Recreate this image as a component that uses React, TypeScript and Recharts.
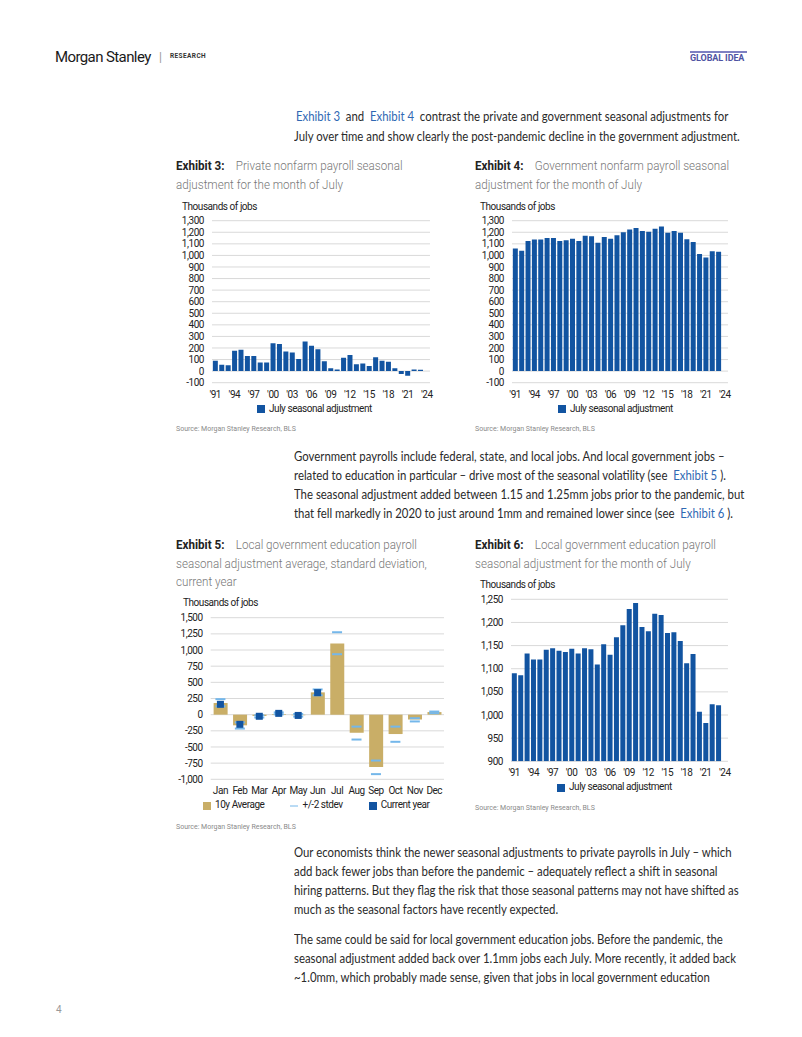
import React from 'react';
import { BarChart, Bar, XAxis, YAxis, CartesianGrid, Legend, ComposedChart, Line } from 'recharts';

// ---------- DATA ----------
const years = [1991, 1992, 1993, 1994, 1995, 1996, 1997, 1998, 1999, 2000, 2001, 2002, 2003, 2004, 2005, 2006, 2007, 2008, 2009, 2010, 2011, 2012, 2013, 2014, 2015, 2016, 2017, 2018, 2019, 2020, 2021, 2022, 2023, 2024];
const privateJuly = [90, 55, 50, 175, 185, 130, 130, 75, 75, 240, 235, 170, 160, 105, 255, 220, 190, 85, 25, 15, 115, 140, 60, 65, 45, 120, 90, 80, 25, -25, -40, 15, 12];
const governmentJuly = [1060, 1040, 1125, 1137, 1137, 1150, 1150, 1125, 1130, 1145, 1125, 1170, 1165, 1110, 1160, 1145, 1175, 1200, 1225, 1237, 1210, 1205, 1230, 1250, 1195, 1210, 1195, 1140, 1115, 1012, 982, 1035, 1032];
const educationJuly = [1090, 1086, 1133, 1120, 1120, 1141, 1144, 1139, 1136, 1143, 1133, 1144, 1142, 1109, 1153, 1130, 1168, 1194, 1229, 1242, 1190, 1181, 1219, 1216, 1177, 1179, 1160, 1112, 1132, 1007, 983, 1023, 1021];
const julyTicks = [-100, 0, 100, 200, 300, 400, 500, 600, 700, 800, 900, 1000, 1100, 1200, 1300];
const eduTicks = [900, 950, 1000, 1050, 1100, 1150, 1200, 1250];

const months = ['Jan', 'Feb', 'Mar', 'Apr', 'May', 'Jun', 'Jul', 'Aug', 'Sep', 'Oct', 'Nov', 'Dec'];
const avg10y = [180, -165, -20, 10, -10, 345, 1100, -280, -810, -300, -75, 40];
const stdevHigh = [240, -120, -10, 35, 10, 390, 1275, -185, -710, -185, -55, 48];
const stdevLow = [130, -215, -45, 5, -30, 300, 935, -385, -920, -420, -105, 22];
const currentYear = [160, -150, -25, 20, -12, 340, null, null, null, null, null, null];
const monthTicks = [-1000, -750, -500, -250, 0, 250, 500, 750, 1000, 1250, 1500];
const monthLegendOrder = ['10y Average', '+/-2 stdev', 'Current year'];

// ---------- TABLES ----------
const privateData = years.map((y, i) => ({ year: y, value: i < privateJuly.length ? privateJuly[i] : null }));
const govData = years.map((y, i) => ({ year: y, value: i < governmentJuly.length ? governmentJuly[i] : null }));
const eduData = years.map((y, i) => ({ year: y, value: i < educationJuly.length ? educationJuly[i] : null }));
const monthData = months.map((m, i) => ({ month: m, avg: avg10y[i], hi: stdevHigh[i], lo: stdevLow[i], cur: currentYear[i] }));

// ---------- STYLE ----------
const BLUE = '#1254a1';
const TAN = '#c9ae67';
const LIGHTBLUE = '#74b7ea';
const GRID = '#d9d9d9';
const CF = 'Roboto, sans-serif';
const tickStyle = { fontSize: 10, fill: '#222', fontFamily: CF, letterSpacing: -0.45 };
const fmt = (v: number) => v.toLocaleString('en-US');
const yr = (v: number) => "'" + String(v).slice(2);
const legendFmt = (extra: number) => (v: string) => (
  <span style={{ color: '#222', marginRight: extra }}>{v}</span>
);
const legendWrap = (left: number) => ({ left, fontSize: 10, fontFamily: CF, letterSpacing: -0.45, lineHeight: '12px' });
const monthSorter = (item: any) => monthLegendOrder.indexOf(item.value);

const T = ({ x, y, size = 13, color = '#333', weight = 400, family = 'Lato, sans-serif', sx = 1, ls = 0, children }: any) => (
  <div
    style={{
      position: 'absolute', left: x, top: y - size * 0.6, fontSize: size, lineHeight: `${size * 1.2}px`, color,
      fontWeight: weight, fontFamily: family, whiteSpace: 'nowrap', letterSpacing: ls,
      transform: sx !== 1 ? `scaleX(${sx})` : undefined, transformOrigin: 'left center',
    }}
  >
    {children}
  </div>
);

const L = ({ children }: any) => <span style={{ color: '#2f68b3' }}>{children}</span>;
const BODY_SX = 0.875;
const Body = ({ y, children, x = 294 }: any) => (
  <T x={x} y={y} size={13} color="#2a2a2a" sx={BODY_SX}>{children}</T>
);
const Title = ({ x, y, label, children }: any) => (
  <T x={x} y={y} size={12.5} family={CF} color="#777" weight={300} sx={0.93}>
    {label ? <span style={{ color: '#222', fontWeight: 700 }}>{label}</span> : null}
    {label ? '\u00a0\u00a0\u00a0\u00a0' : null}
    {children}
  </T>
);
const Src = ({ x, y }: any) => (
  <T x={x} y={y} size={7} family={CF} color="#8a8a8a">Source: Morgan Stanley Research, BLS</T>
);
const Unit = ({ x, y }: any) => (
  <T x={x} y={y} size={10} family={CF} color="#222" ls={-0.45}>Thousands of jobs</T>
);

const Dash = (props: any) => {
  const { cx, cy } = props;
  if (cx == null || cy == null || Number.isNaN(cy)) return <g />;
  return <line x1={cx - 5} x2={cx + 5} y1={cy} y2={cy} stroke={LIGHTBLUE} strokeWidth={2} />;
};
const Sq = (props: any) => {
  const { cx, cy } = props;
  if (cx == null || cy == null || Number.isNaN(cy)) return <g />;
  return <rect x={cx - 3.5} y={cy - 3.5} width={7} height={7} fill={BLUE} />;
};

const JulyChart = ({ data, left, top, height, marginTop, yWidth, marginRight, domain, ticks, legendLeft }: any) => (
  <div style={{ position: 'absolute', left, top }}>
    <BarChart width={270} height={height} data={data} margin={{ top: marginTop, right: marginRight, left: 0, bottom: 0 }} barCategoryGap="13%">
      <CartesianGrid vertical={false} stroke={GRID} />
      <XAxis dataKey="year" axisLine={false} tickLine={false} interval={2} tickFormatter={yr} tick={tickStyle} height={20} tickSize={6} tickMargin={2} />
      <YAxis domain={domain} ticks={ticks} interval={0} axisLine={false} tickLine={false} tickFormatter={fmt} tick={tickStyle} width={yWidth} allowDataOverflow />
      <Legend verticalAlign="bottom" align="left" height={16} iconType="square" iconSize={8} formatter={legendFmt(0)} wrapperStyle={legendWrap(legendLeft)} />
      <Bar dataKey="value" name="July seasonal adjustment" fill={BLUE} isAnimationActive={false} />
    </BarChart>
  </div>
);

export default function App() {
  return (
    <div style={{ position: 'absolute', left: 0, top: 0, width: 802, height: 1037, background: '#fff', overflow: 'hidden', fontFamily: CF }}>
      {/* Header */}
      <T x={55} y={57} size={15} family={CF} color="#1a1a1a" ls={-0.6}>Morgan Stanley</T>
      <T x={159} y={57} size={12} family={CF} color="#999">|</T>
      <T x={170} y={57} size={6.5} family={CF} color="#333" weight={700} ls={0.4}>RESEARCH</T>
      <div style={{ position: 'absolute', left: 690, top: 51, width: 57, height: 2, background: '#7d80c2' }} />
      <T x={690} y={58} size={9} family={CF} color="#4f53a3" weight={700} ls={-0.1}>GLOBAL IDEA</T>

      {/* Paragraph 1 */}
      <Body y={117} x={296}><L>Exhibit 3</L>{'\u00a0\u00a0and\u00a0\u00a0'}<L>Exhibit 4</L>{'\u00a0\u00a0contrast the private and government seasonal adjustments for'}</Body>
      <Body y={137}>July over time and show clearly the post-pandemic decline in the government adjustment.</Body>

      {/* Exhibit 3 / 4 titles */}
      <Title x={176} y={165} label="Exhibit 3:">Private nonfarm payroll seasonal</Title>
      <Title x={176} y={184}>adjustment for the month of July</Title>
      <Title x={475} y={165} label="Exhibit 4:">Government nonfarm payroll seasonal</Title>
      <Title x={475} y={184}>adjustment for the month of July</Title>

      <Unit x={182} y={207} />
      <Unit x={480} y={207} />
      <JulyChart data={privateData} left={170} top={205} height={213.7} marginTop={15.7} yWidth={42} marginRight={10} domain={[-100, 1300]} ticks={julyTicks} legendLeft={87} />
      <JulyChart data={govData} left={470} top={205} height={213.7} marginTop={15.7} yWidth={42} marginRight={12} domain={[-100, 1300]} ticks={julyTicks} legendLeft={88} />
      <Src x={176} y={429} />
      <Src x={475} y={429} />

      {/* Paragraph 2 */}
      <Body y={457}>Government payrolls include federal, state, and local jobs. And local government jobs –</Body>
      <Body y={476}>{'related to education in particular – drive most of the seasonal volatility (see\u00a0\u00a0'}<L>Exhibit 5</L>{'\u00a0).'}</Body>
      <Body y={495}>The seasonal adjustment added between 1.15 and 1.25mm jobs prior to the pandemic, but</Body>
      <Body y={514}>{'that fell markedly in 2020 to just around 1mm and remained lower since (see\u00a0\u00a0'}<L>Exhibit 6</L>{'\u00a0).'}</Body>

      {/* Exhibit 5 / 6 titles */}
      <Title x={176} y={544} label="Exhibit 5:">Local government education payroll</Title>
      <Title x={176} y={563}>seasonal adjustment average, standard deviation,</Title>
      <Title x={176} y={581}>current year</Title>
      <Title x={475} y={544} label="Exhibit 6:">Local government education payroll</Title>
      <Title x={475} y={563}>seasonal adjustment for the month of July</Title>

      {/* Exhibit 5 */}
      <Unit x={183} y={603} />
      <div style={{ position: 'absolute', left: 170, top: 600 }}>
        <ComposedChart width={280} height={213.3} data={monthData} margin={{ top: 17.7, right: 6, left: 0, bottom: 0 }} barCategoryGap="15%">
          <CartesianGrid vertical={false} stroke={GRID} />
          <XAxis dataKey="month" axisLine={false} tickLine={false} interval={0} tick={tickStyle} height={20} tickSize={6} tickMargin={2} />
          <YAxis domain={[-1000, 1500]} ticks={monthTicks} interval={0} axisLine={false} tickLine={false} tickFormatter={fmt} tick={tickStyle} width={40.7} />
          <Legend verticalAlign="bottom" align="left" height={14} iconSize={8} itemSorter={monthSorter} formatter={legendFmt(16)} wrapperStyle={legendWrap(33)} />
          <Bar dataKey="avg" name="10y Average" fill={TAN} legendType="square" isAnimationActive={false} />
          <Line dataKey="hi" name="+/-2 stdev" stroke={LIGHTBLUE} strokeWidth={0} legendType="plainline" dot={Dash} activeDot={false} isAnimationActive={false} />
          <Line dataKey="lo" name="+/-2 stdev low" stroke={LIGHTBLUE} strokeWidth={0} legendType="none" dot={Dash} activeDot={false} isAnimationActive={false} />
          <Line dataKey="cur" name="Current year" stroke={BLUE} strokeWidth={0} legendType="square" dot={Sq} activeDot={false} isAnimationActive={false} />
        </ComposedChart>
      </div>
      <Src x={176} y={827} />

      {/* Exhibit 6 */}
      <Unit x={480} y={585} />
      <div style={{ position: 'absolute', left: 470, top: 590 }}>
        <BarChart width={270} height={207.3} data={eduData} margin={{ top: 9.3, right: 12, left: 0, bottom: 0 }} barCategoryGap="13%">
          <CartesianGrid vertical={false} stroke={GRID} />
          <XAxis dataKey="year" axisLine={false} tickLine={false} interval={2} tickFormatter={yr} tick={tickStyle} height={20} tickSize={6} tickMargin={2} />
          <YAxis domain={[900, 1250]} ticks={eduTicks} interval={0} axisLine={false} tickLine={false} tickFormatter={fmt} tick={tickStyle} width={41} allowDataOverflow />
          <Legend verticalAlign="bottom" align="left" height={16} iconType="square" iconSize={8} formatter={legendFmt(0)} wrapperStyle={legendWrap(87)} />
          <Bar dataKey="value" name="July seasonal adjustment" fill={BLUE} isAnimationActive={false} />
        </BarChart>
      </div>
      <Src x={475} y={808} />

      {/* Paragraph 3 */}
      <Body y={853}>Our economists think the newer seasonal adjustments to private payrolls in July – which</Body>
      <Body y={872}>add back fewer jobs than before the pandemic – adequately reflect a shift in seasonal</Body>
      <Body y={891}>hiring patterns. But they flag the risk that those seasonal patterns may not have shifted as</Body>
      <Body y={910}>much as the seasonal factors have recently expected.</Body>

      {/* Paragraph 4 */}
      <Body y={940}>The same could be said for local government education jobs. Before the pandemic, the</Body>
      <Body y={959}>seasonal adjustment added back over 1.1mm jobs each July. More recently, it added back</Body>
      <Body y={978}>~1.0mm, which probably made sense, given that jobs in local government education</Body>

      <T x={56} y={1010} size={10} family={CF} color="#999">4</T>
    </div>
  );
}
